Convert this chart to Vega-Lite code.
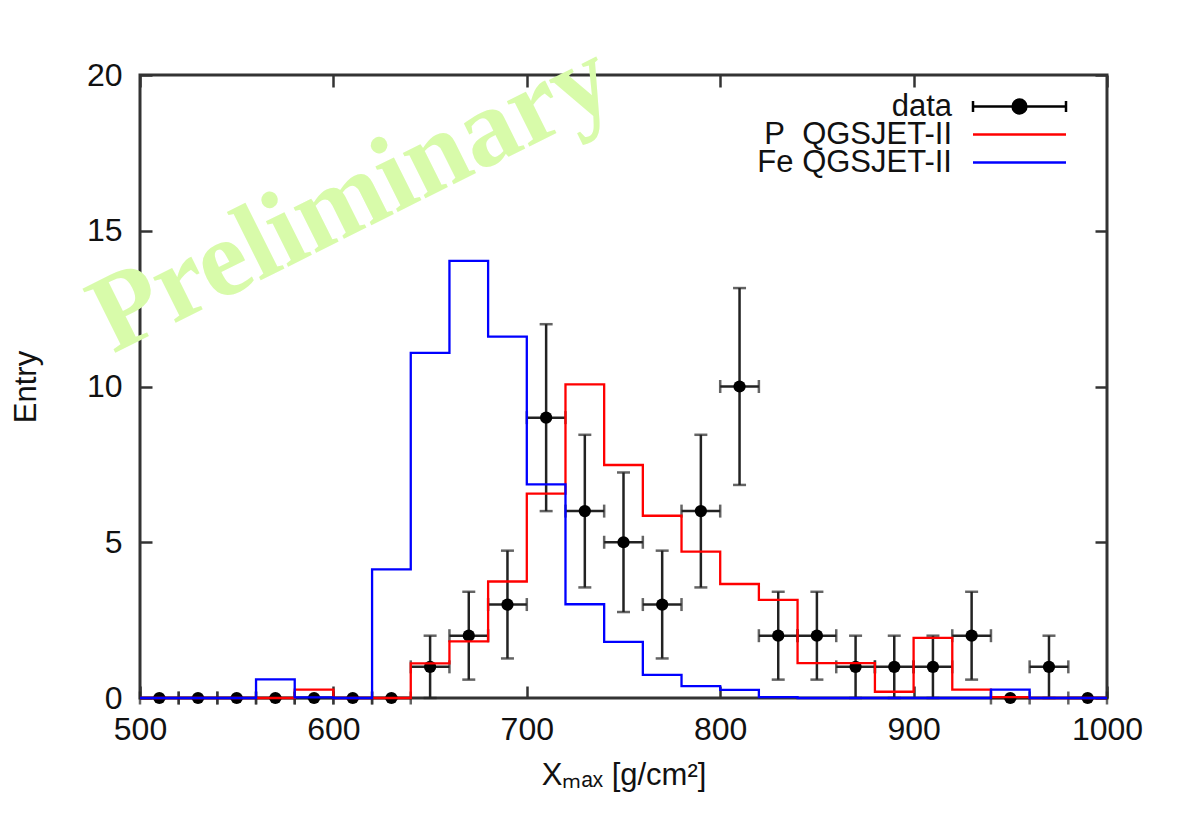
{
  "$schema": "https://vega.github.io/schema/vega-lite/v6.json",
  "width": 967,
  "height": 623,
  "autosize": {"type": "none"},
  "padding": {"left": 140, "top": 75, "right": 85, "bottom": 118},
  "background": "white",
  "config": {
    "view": {"stroke": "#333333", "strokeWidth": 3},
    "font": "Liberation Sans",
    "axis": {
      "domain": false,
      "grid": false,
      "tickSize": -12,
      "tickWidth": 2.5,
      "tickColor": "#333333",
      "labelFont": "Liberation Sans",
      "labelFontSize": 32,
      "labelColor": "#111111",
      "labelFlush": false,
      "format": "d",
      "titleFont": "Liberation Sans",
      "titleFontSize": 31,
      "titleFontWeight": "normal",
      "titleColor": "#111111"
    },
    "legend": {
      "orient": "none",
      "legendX": 864,
      "legendY": 16,
      "padding": 0,
      "labelFont": "Liberation Sans",
      "labelFontSize": 31,
      "labelColor": "#111111",
      "labelAlign": "right",
      "labelOffset": -83,
      "labelLimit": 500,
      "symbolSize": 400,
      "symbolStrokeWidth": 2.5,
      "rowPadding": -4,
      "gridAlign": "none"
    }
  },
  "datasets": {
    "points": [
      {"series": "data", "x": 510, "n": 0, "xlo": 500, "xhi": 520, "ylo": 0, "yhi": 0},
      {"series": "data", "x": 530, "n": 0, "xlo": 520, "xhi": 540, "ylo": 0, "yhi": 0},
      {"series": "data", "x": 550, "n": 0, "xlo": 540, "xhi": 560, "ylo": 0, "yhi": 0},
      {"series": "data", "x": 570, "n": 0, "xlo": 560, "xhi": 580, "ylo": 0, "yhi": 0},
      {"series": "data", "x": 590, "n": 0, "xlo": 580, "xhi": 600, "ylo": 0, "yhi": 0},
      {"series": "data", "x": 610, "n": 0, "xlo": 600, "xhi": 620, "ylo": 0, "yhi": 0},
      {"series": "data", "x": 630, "n": 0, "xlo": 620, "xhi": 640, "ylo": 0, "yhi": 0},
      {"series": "data", "x": 650, "n": 1, "xlo": 640, "xhi": 660, "ylo": 0, "yhi": 2},
      {"series": "data", "x": 670, "n": 2, "xlo": 660, "xhi": 680, "ylo": 0.59, "yhi": 3.41},
      {"series": "data", "x": 690, "n": 3, "xlo": 680, "xhi": 700, "ylo": 1.27, "yhi": 4.73},
      {"series": "data", "x": 710, "n": 9, "xlo": 700, "xhi": 720, "ylo": 6, "yhi": 12},
      {"series": "data", "x": 730, "n": 6, "xlo": 720, "xhi": 740, "ylo": 3.55, "yhi": 8.45},
      {"series": "data", "x": 750, "n": 5, "xlo": 740, "xhi": 760, "ylo": 2.76, "yhi": 7.24},
      {"series": "data", "x": 770, "n": 3, "xlo": 760, "xhi": 780, "ylo": 1.27, "yhi": 4.73},
      {"series": "data", "x": 790, "n": 6, "xlo": 780, "xhi": 800, "ylo": 3.55, "yhi": 8.45},
      {"series": "data", "x": 810, "n": 10, "xlo": 800, "xhi": 820, "ylo": 6.84, "yhi": 13.16},
      {"series": "data", "x": 830, "n": 2, "xlo": 820, "xhi": 840, "ylo": 0.59, "yhi": 3.41},
      {"series": "data", "x": 850, "n": 2, "xlo": 840, "xhi": 860, "ylo": 0.59, "yhi": 3.41},
      {"series": "data", "x": 870, "n": 1, "xlo": 860, "xhi": 880, "ylo": 0, "yhi": 2},
      {"series": "data", "x": 890, "n": 1, "xlo": 880, "xhi": 900, "ylo": 0, "yhi": 2},
      {"series": "data", "x": 910, "n": 1, "xlo": 900, "xhi": 920, "ylo": 0, "yhi": 2},
      {"series": "data", "x": 930, "n": 2, "xlo": 920, "xhi": 940, "ylo": 0.59, "yhi": 3.41},
      {"series": "data", "x": 950, "n": 0, "xlo": 940, "xhi": 960, "ylo": 0, "yhi": 0},
      {"series": "data", "x": 970, "n": 1, "xlo": 960, "xhi": 980, "ylo": 0, "yhi": 2},
      {"series": "data", "x": 990, "n": 0, "xlo": 980, "xhi": 1000, "ylo": 0, "yhi": 0}
    ],
    "hist": [
      {"series": "P\u00a0\u00a0QGSJET-II", "edge": 500, "h": 0},
      {"series": "P\u00a0\u00a0QGSJET-II", "edge": 520, "h": 0},
      {"series": "P\u00a0\u00a0QGSJET-II", "edge": 540, "h": 0},
      {"series": "P\u00a0\u00a0QGSJET-II", "edge": 560, "h": 0},
      {"series": "P\u00a0\u00a0QGSJET-II", "edge": 580, "h": 0.27},
      {"series": "P\u00a0\u00a0QGSJET-II", "edge": 600, "h": 0},
      {"series": "P\u00a0\u00a0QGSJET-II", "edge": 620, "h": 0},
      {"series": "P\u00a0\u00a0QGSJET-II", "edge": 640, "h": 1.11},
      {"series": "P\u00a0\u00a0QGSJET-II", "edge": 660, "h": 1.82},
      {"series": "P\u00a0\u00a0QGSJET-II", "edge": 680, "h": 3.74},
      {"series": "P\u00a0\u00a0QGSJET-II", "edge": 700, "h": 6.56},
      {"series": "P\u00a0\u00a0QGSJET-II", "edge": 720, "h": 10.07},
      {"series": "P\u00a0\u00a0QGSJET-II", "edge": 740, "h": 7.48},
      {"series": "P\u00a0\u00a0QGSJET-II", "edge": 760, "h": 5.85},
      {"series": "P\u00a0\u00a0QGSJET-II", "edge": 780, "h": 4.7},
      {"series": "P\u00a0\u00a0QGSJET-II", "edge": 800, "h": 3.66},
      {"series": "P\u00a0\u00a0QGSJET-II", "edge": 820, "h": 3.15},
      {"series": "P\u00a0\u00a0QGSJET-II", "edge": 840, "h": 1.12},
      {"series": "P\u00a0\u00a0QGSJET-II", "edge": 860, "h": 1.12},
      {"series": "P\u00a0\u00a0QGSJET-II", "edge": 880, "h": 0.2},
      {"series": "P\u00a0\u00a0QGSJET-II", "edge": 900, "h": 1.93},
      {"series": "P\u00a0\u00a0QGSJET-II", "edge": 920, "h": 0.27},
      {"series": "P\u00a0\u00a0QGSJET-II", "edge": 940, "h": 0.03},
      {"series": "P\u00a0\u00a0QGSJET-II", "edge": 960, "h": 0},
      {"series": "P\u00a0\u00a0QGSJET-II", "edge": 980, "h": 0},
      {"series": "P\u00a0\u00a0QGSJET-II", "edge": 1000, "h": 0},
      {"series": "Fe QGSJET-II", "edge": 500, "h": 0},
      {"series": "Fe QGSJET-II", "edge": 520, "h": 0},
      {"series": "Fe QGSJET-II", "edge": 540, "h": 0},
      {"series": "Fe QGSJET-II", "edge": 560, "h": 0.6},
      {"series": "Fe QGSJET-II", "edge": 580, "h": 0.02},
      {"series": "Fe QGSJET-II", "edge": 600, "h": 0},
      {"series": "Fe QGSJET-II", "edge": 620, "h": 4.13},
      {"series": "Fe QGSJET-II", "edge": 640, "h": 11.08},
      {"series": "Fe QGSJET-II", "edge": 660, "h": 14.03},
      {"series": "Fe QGSJET-II", "edge": 680, "h": 11.6},
      {"series": "Fe QGSJET-II", "edge": 700, "h": 6.86},
      {"series": "Fe QGSJET-II", "edge": 720, "h": 3.01},
      {"series": "Fe QGSJET-II", "edge": 740, "h": 1.8},
      {"series": "Fe QGSJET-II", "edge": 760, "h": 0.74},
      {"series": "Fe QGSJET-II", "edge": 780, "h": 0.38},
      {"series": "Fe QGSJET-II", "edge": 800, "h": 0.26},
      {"series": "Fe QGSJET-II", "edge": 820, "h": 0.03},
      {"series": "Fe QGSJET-II", "edge": 840, "h": 0},
      {"series": "Fe QGSJET-II", "edge": 860, "h": 0},
      {"series": "Fe QGSJET-II", "edge": 880, "h": 0},
      {"series": "Fe QGSJET-II", "edge": 900, "h": 0},
      {"series": "Fe QGSJET-II", "edge": 920, "h": 0},
      {"series": "Fe QGSJET-II", "edge": 940, "h": 0.27},
      {"series": "Fe QGSJET-II", "edge": 960, "h": 0},
      {"series": "Fe QGSJET-II", "edge": 980, "h": 0},
      {"series": "Fe QGSJET-II", "edge": 1000, "h": 0}
    ]
  },
  "resolve": {"axis": {"x": "independent", "y": "independent"}},
  "layer": [
    {
      "data": {"values": [{"label": "Preliminary"}]},
      "mark": {"type": "text", "font": "Liberation Serif", "fontWeight": "bold", "fontSize": 110, "angle": -26.5, "align": "center", "baseline": "alphabetic", "color": "#d8fbaa"},
      "encoding": {
        "x": {"datum": 617, "type": "quantitative", "scale": {"domain": [500, 1000], "nice": false, "zero": false}, "axis": null},
        "y": {"datum": 15.1, "type": "quantitative", "scale": {"domain": [0, 20], "nice": false, "zero": false}, "axis": null},
        "text": {"field": "label"}
      }
    },
    {
      "data": {"name": "points"},
      "mark": {"type": "errorbar", "ticks": {"size": 13, "thickness": 2.5}, "color": "#222222", "thickness": 2.5},
      "encoding": {
        "x": {"field": "xlo", "type": "quantitative", "scale": {"domain": [500, 1000], "nice": false, "zero": false}, "axis": null},
        "x2": {"field": "xhi"},
        "y": {"field": "n", "type": "quantitative", "scale": {"domain": [0, 20], "nice": false, "zero": false}, "axis": null}
      }
    },
    {
      "data": {"name": "points"},
      "mark": {"type": "errorbar", "ticks": {"size": 13, "thickness": 2.5}, "color": "#222222", "thickness": 2.5},
      "encoding": {
        "y": {"field": "ylo", "type": "quantitative", "scale": {"domain": [0, 20], "nice": false, "zero": false}, "axis": null},
        "y2": {"field": "yhi"},
        "x": {"field": "x", "type": "quantitative", "scale": {"domain": [500, 1000], "nice": false, "zero": false}, "axis": null}
      }
    },
    {
      "data": {"name": "points"},
      "mark": {"type": "circle", "size": 150, "opacity": 1},
      "encoding": {
        "x": {"field": "x", "type": "quantitative", "scale": {"domain": [500, 1000], "nice": false, "zero": false}, "axis": {"orient": "top", "values": [500, 600, 700, 800, 900, 1000], "labels": false, "title": null}},
        "y": {"field": "n", "type": "quantitative", "scale": {"domain": [0, 20], "nice": false, "zero": false}, "axis": {"orient": "right", "values": [0, 5, 10, 15, 20], "labels": false, "title": null}},
        "color": {
          "field": "series",
          "type": "nominal",
          "scale": {"domain": ["data", "P\u00a0\u00a0QGSJET-II", "Fe QGSJET-II"], "range": ["#000000", "#ff0000", "#0000ff"]},
          "legend": {
            "title": null,
            "rowPadding": -4,
            "encode": {
              "symbols": {
                "update": {
                  "shape": {"signal": "datum.value === 'data' ? 'M-4.65,0H4.65M-4.65,-0.54V0.54M4.65,-0.54V0.54M0.69,0A0.69,0.69 0 1,1 -0.69,0A0.69,0.69 0 1,1 0.69,0' : 'M-4.65,0H4.65'"},
                  "fill": {"signal": "datum.value === 'data' ? '#000000' : 'transparent'"},
                  "stroke": {"signal": "datum.value === 'data' ? '#333333' : (datum.value === 'Fe QGSJET-II' ? '#4d4dff' : '#ff4d4d')"},
                  "strokeWidth": {"value": 2.5},
                  "opacity": {"value": 1}
                }
              }
            }
          }
        }
      }
    },
    {
      "data": {"name": "hist"},
      "mark": {"type": "line", "interpolate": "step-after", "strokeWidth": 2.3},
      "encoding": {
        "x": {"field": "edge", "type": "quantitative", "scale": {"domain": [500, 1000], "nice": false, "zero": false}, "axis": {"orient": "bottom", "values": [500, 600, 700, 800, 900, 1000], "labelPadding": 28, "title": "Xₘₐₓ [g/cm²]", "titlePadding": 15}},
        "y": {"field": "h", "type": "quantitative", "scale": {"domain": [0, 20], "nice": false, "zero": false}, "axis": {"orient": "left", "values": [0, 5, 10, 15, 20], "labelPadding": 30, "title": "Entry", "titlePadding": 44}},
        "color": {
          "field": "series",
          "type": "nominal",
          "legend": {
            "title": null,
            "rowPadding": -4,
            "encode": {
              "symbols": {
                "update": {
                  "shape": {"signal": "datum.value === 'data' ? 'M-4.65,0H4.65M-4.65,-0.54V0.54M4.65,-0.54V0.54M0.69,0A0.69,0.69 0 1,1 -0.69,0A0.69,0.69 0 1,1 0.69,0' : 'M-4.65,0H4.65'"},
                  "fill": {"signal": "datum.value === 'data' ? '#000000' : 'transparent'"},
                  "stroke": {"signal": "datum.value === 'data' ? '#333333' : (datum.value === 'Fe QGSJET-II' ? '#4d4dff' : '#ff4d4d')"},
                  "strokeWidth": {"value": 2.5},
                  "opacity": {"value": 1}
                }
              }
            }
          }
        }
      }
    }
  ]
}
